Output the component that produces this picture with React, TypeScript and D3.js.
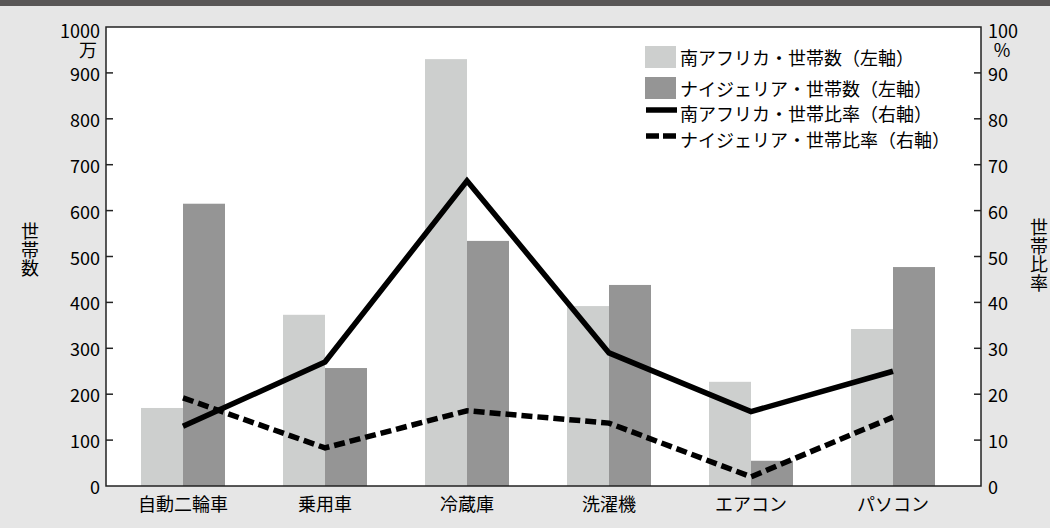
import React from "react";
import * as d3 from "d3";

// 耐久消費財ごとの世帯数（万世帯）と世帯比率（%）
const categories = ["自動二輪車", "乗用車", "冷蔵庫", "洗濯機", "エアコン", "パソコン"];
const saHouseholds = [170, 373, 930, 392, 227, 342];
const ngHouseholds = [615, 257, 534, 438, 55, 477];
const saRate = [13, 27, 66.5, 29, 16.2, 25];
const ngRate = [19.2, 8.3, 16.4, 13.7, 2, 15];

const leftTicks = [0, 100, 200, 300, 400, 500, 600, 700, 800, 900, 1000];
const rightTicks = [0, 10, 20, 30, 40, 50, 60, 70, 80, 90, 100];

const leftTitle = "世帯数";
const rightTitle = "世帯比率";

const legendItems = [
  { label: "南アフリカ・世帯数（左軸）", kind: "bar", color: "#cdcfce" },
  { label: "ナイジェリア・世帯数（左軸）", kind: "bar", color: "#959595" },
  { label: "南アフリカ・世帯比率（右軸）", kind: "solid", color: "#000" },
  { label: "ナイジェリア・世帯比率（右軸）", kind: "dashed", color: "#000" },
];

const W = 1050;
const H = 528;
const FONT = "'Noto Sans CJK JP', 'Noto Sans', sans-serif";
const TEXT = "#000";

// 縦書きの軸タイトル：1文字ずつ下へ並べる
function VerticalTitle({ text, x, y, pitch }: { text: string; x: number; y: number; pitch: number }) {
  return (
    <text fontSize={18} fill={TEXT} textAnchor="middle" dominantBaseline="central">
      {text.split("").map((ch, i) => (
        <tspan key={i} x={x} y={y + i * pitch}>
          {ch}
        </tspan>
      ))}
    </text>
  );
}

export default function App() {
  const plot = { left: 106, right: 981, top: 27, bottom: 486 };

  const x = d3.scaleBand<string>().domain(categories).range([112, 964]).padding(0);
  const xSub = d3.scaleBand<string>().domain(["sa", "ng"]).range([-42, 42]).padding(0);
  const yL = d3.scaleLinear().domain([0, 1000]).range([plot.bottom, plot.top]);
  const yR = d3.scaleLinear().domain([0, 100]).range([plot.bottom, plot.top]);
  const cx = (c: string) => (x(c) ?? 0) + x.bandwidth() / 2;

  const line = d3
    .line<number>()
    .x((_, i) => cx(categories[i]))
    .y((d) => yR(d));

  const legendRows = [57, 88, 113, 139];

  return (
    <svg
      width={W}
      height={H}
      style={{ position: "absolute", left: 0, top: 0, display: "block" }}
      fontFamily={FONT}
    >
      <rect x={0} y={0} width={W} height={H} fill="#e6e6e6" />
      <rect x={0} y={0} width={W} height={6} fill="#595757" />

      {/* 描画領域 */}
      <rect
        x={plot.left}
        y={plot.top}
        width={plot.right - plot.left}
        height={plot.bottom - plot.top}
        fill="#fff"
      />

      {/* 棒グラフ */}
      {categories.map((c, i) => (
        <g key={c}>
          <rect
            x={cx(c) + (xSub("sa") ?? 0)}
            y={yL(saHouseholds[i])}
            width={xSub.bandwidth()}
            height={plot.bottom - yL(saHouseholds[i])}
            fill="#cdcfce"
          />
          <rect
            x={cx(c) + (xSub("ng") ?? 0)}
            y={yL(ngHouseholds[i])}
            width={xSub.bandwidth()}
            height={plot.bottom - yL(ngHouseholds[i])}
            fill="#959595"
          />
        </g>
      ))}

      {/* 折れ線 */}
      <path d={line(saRate) ?? ""} fill="none" stroke="#000" strokeWidth={5.5} strokeLinejoin="miter" />
      <path
        d={line(ngRate) ?? ""}
        fill="none"
        stroke="#000"
        strokeWidth={5.5}
        strokeDasharray="11 5"
        strokeLinejoin="miter"
      />

      {/* 枠線 */}
      <rect
        x={plot.left}
        y={plot.top}
        width={plot.right - plot.left}
        height={plot.bottom - plot.top}
        fill="none"
        stroke="#222"
        strokeWidth={1.5}
      />

      {/* 左軸 */}
      {leftTicks.map((t) =>
        t === 1000 ? (
          <text key="l1000" fontSize={18} fill={TEXT}>
            <tspan x={100} y={yL(t) + 11} textAnchor="end">
              {t}
            </tspan>
            <tspan x={88} y={yL(t) + 30} textAnchor="middle">
              万
            </tspan>
          </text>
        ) : (
          <g key={"l" + t}>
            {t > 0 && (
              <line x1={plot.left} x2={plot.left + 7} y1={yL(t)} y2={yL(t)} stroke="#222" strokeWidth={1.5} />
            )}
            <text x={100} y={yL(t)} textAnchor="end" dominantBaseline="central" fontSize={18} fill={TEXT}>
              {t}
            </text>
          </g>
        )
      )}

      {/* 右軸 */}
      {rightTicks.map((t) =>
        t === 100 ? (
          <text key="r100" fontSize={18} fill={TEXT}>
            <tspan x={988} y={yR(t) + 11} textAnchor="start">
              {t}
            </tspan>
            <tspan x={1002} y={yR(t) + 30} textAnchor="middle">
              %
            </tspan>
          </text>
        ) : (
          <g key={"r" + t}>
            {t > 0 && (
              <line x1={plot.right - 7} x2={plot.right} y1={yR(t)} y2={yR(t)} stroke="#222" strokeWidth={1.5} />
            )}
            <text x={988} y={yR(t)} textAnchor="start" dominantBaseline="central" fontSize={18} fill={TEXT}>
              {t}
            </text>
          </g>
        )
      )}

      {/* 軸タイトル（縦書き） */}
      <VerticalTitle text={leftTitle} x={30} y={230} pitch={18.5} />
      <VerticalTitle text={rightTitle} x={1039} y={226} pitch={18.5} />

      {/* カテゴリ */}
      {categories.map((c) => (
        <text key={"x" + c} x={cx(c)} y={503} textAnchor="middle" dominantBaseline="central" fontSize={18} fill={TEXT}>
          {c}
        </text>
      ))}

      {/* 凡例 */}
      {legendItems.map((it, i) => {
        const yc = legendRows[i];
        return (
          <g key={it.label}>
            {it.kind === "bar" && <rect x={645} y={yc - 11} width={31} height={22} fill={it.color} />}
            {it.kind === "solid" && (
              <line x1={646} x2={677} y1={yc - 3} y2={yc - 3} stroke="#000" strokeWidth={5.5} />
            )}
            {it.kind === "dashed" && (
              <line
                x1={646}
                x2={677}
                y1={yc - 3}
                y2={yc - 3}
                stroke="#000"
                strokeWidth={5.5}
                strokeDasharray="13 4"
              />
            )}
            <text x={680} y={yc} dominantBaseline="central" fontSize={18} fill={TEXT}>
              {it.label}
            </text>
          </g>
        );
      })}
    </svg>
  );
}
